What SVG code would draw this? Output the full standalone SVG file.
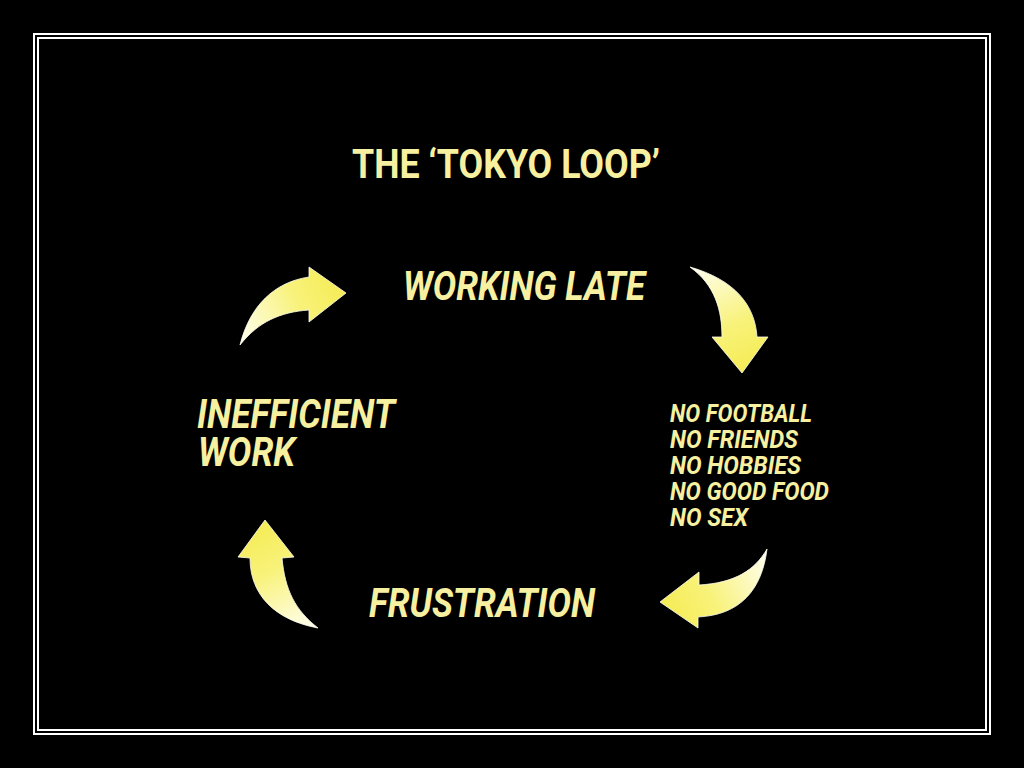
<svg xmlns="http://www.w3.org/2000/svg" width="1024" height="768" viewBox="0 0 1024 768">
<defs>
<style>
.t{fill:#F6F0A0;font-family:"Roboto","Liberation Sans",sans-serif;font-weight:bold;}
.i{font-style:italic;}
.frame{fill:none;stroke:#FFFFFF;stroke-width:2;}
.arrow{stroke:#FFFFF0;stroke-width:0.8;}
</style>
<linearGradient id="g1" gradientUnits="userSpaceOnUse" x1="240" y1="345" x2="346" y2="292"><stop offset="0" stop-color="#FFFFF2"/><stop offset="0.6" stop-color="#F8F27A"/><stop offset="1" stop-color="#F5EC55"/></linearGradient>
<linearGradient id="g2" gradientUnits="userSpaceOnUse" x1="690" y1="267" x2="742" y2="373"><stop offset="0" stop-color="#FFFFF2"/><stop offset="0.6" stop-color="#F8F27A"/><stop offset="1" stop-color="#F5EC55"/></linearGradient>
<linearGradient id="g3" gradientUnits="userSpaceOnUse" x1="767" y1="549" x2="660" y2="602"><stop offset="0" stop-color="#FFFFF2"/><stop offset="0.6" stop-color="#F8F27A"/><stop offset="1" stop-color="#F5EC55"/></linearGradient>
<linearGradient id="g4" gradientUnits="userSpaceOnUse" x1="318" y1="628" x2="265" y2="520"><stop offset="0" stop-color="#FFFFF2"/><stop offset="0.6" stop-color="#F8F27A"/><stop offset="1" stop-color="#F5EC55"/></linearGradient>
</defs>
<rect x="0" y="0" width="1024" height="768" fill="#000000"/>
<rect class="frame" x="34" y="34" width="956" height="700"/>
<rect class="frame" x="38" y="38" width="948" height="692"/>

<g id="title"><text class="t" x="352" y="178" font-size="40" textLength="308" lengthAdjust="spacingAndGlyphs">THE ‘TOKYO LOOP’</text></g>
<g id="working-late"><text class="t i" x="403" y="300" font-size="40" textLength="242" lengthAdjust="spacingAndGlyphs">WORKING LATE</text></g>
<g id="no-list">
<text class="t i" x="670" y="422" font-size="26" textLength="142" lengthAdjust="spacingAndGlyphs">NO FOOTBALL</text>
<text class="t i" x="670" y="448" font-size="26" textLength="128" lengthAdjust="spacingAndGlyphs">NO FRIENDS</text>
<text class="t i" x="670" y="474" font-size="26" textLength="131" lengthAdjust="spacingAndGlyphs">NO HOBBIES</text>
<text class="t i" x="670" y="500" font-size="26" textLength="159" lengthAdjust="spacingAndGlyphs">NO GOOD FOOD</text>
<text class="t i" x="670" y="526" font-size="26" textLength="78" lengthAdjust="spacingAndGlyphs">NO SEX</text>
</g>
<g id="frustration"><text class="t i" x="369" y="617" font-size="40" textLength="226" lengthAdjust="spacingAndGlyphs">FRUSTRATION</text></g>
<g id="inefficient-work">
<text class="t i" x="197" y="428" font-size="40" textLength="198" lengthAdjust="spacingAndGlyphs">INEFFICIENT</text>
<text class="t i" x="198" y="466" font-size="40" textLength="97" lengthAdjust="spacingAndGlyphs">WORK</text>
</g>

<g id="connectors">
<path class="arrow" fill="url(#g1)" d="M240,345 C250,305 275,282 309,277 L309,267 L346,293 L309,322 L309,310 C280,312 258,322 240,345 Z"/>
<path class="arrow" fill="url(#g2)" d="M690,267 C735,280 755,305 757,337 L768,337 L742,373 L712,337 L722,337 C722,310 715,285 690,267 Z"/>
<path class="arrow" fill="url(#g3)" d="M767,549 C755,570 735,583 699,585 L699,572 L660,602 L698,628 L698,617 C740,615 762,590 767,549 Z"/>
<path class="arrow" fill="url(#g4)" d="M318,628 C295,610 285,590 282,558 L294,557 L265,520 L238,557 L250,558 C250,595 275,620 318,628 Z"/>
</g>
</svg>
